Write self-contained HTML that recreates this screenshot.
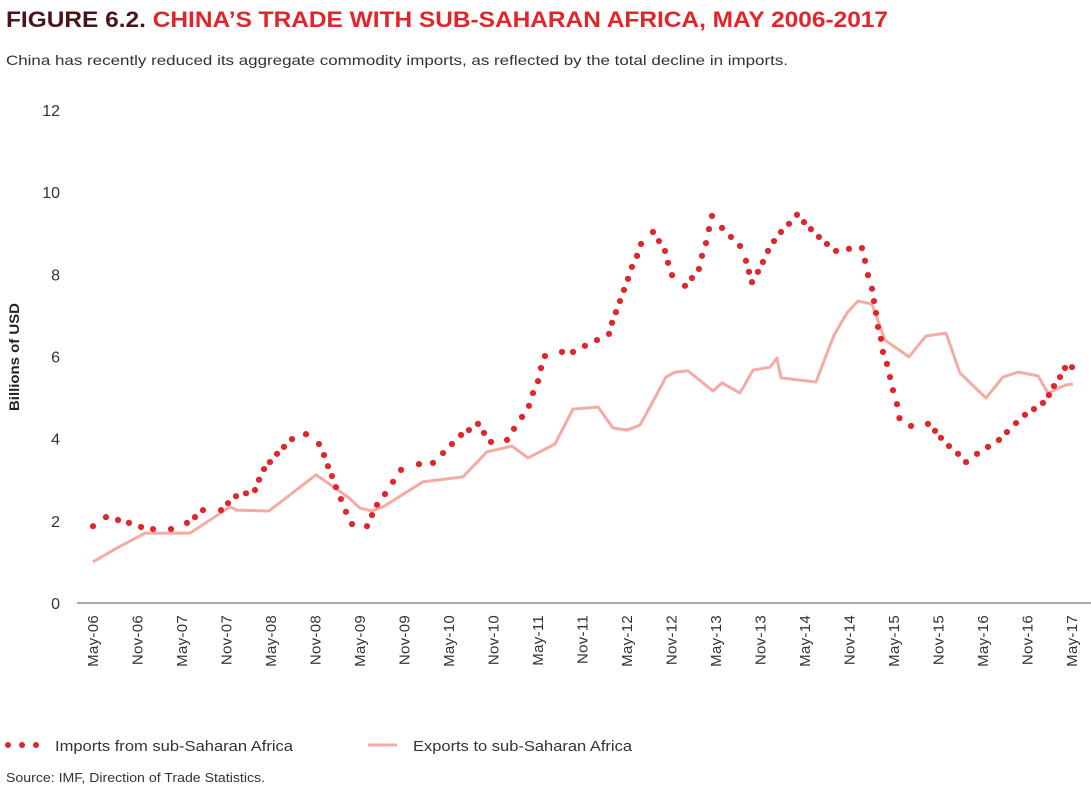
<!DOCTYPE html>
<html><head><meta charset="utf-8"><style>
body{margin:0;background:#fff;font-family:"Liberation Sans",sans-serif;}
svg{display:block}
</style></head><body>
<svg width="1091" height="793" xmlns="http://www.w3.org/2000/svg" id="chart" font-family="Liberation Sans, sans-serif">
<text x="6" y="27" font-size="22" font-weight="bold" textLength="882" lengthAdjust="spacingAndGlyphs"><tspan fill="#4a1518">FIGURE 6.2. </tspan><tspan fill="#e0262b">CHINA’S TRADE WITH SUB-SAHARAN AFRICA, MAY 2006-2017</tspan></text>
<text x="6" y="65" font-size="14" fill="#333" textLength="782" lengthAdjust="spacingAndGlyphs">China has recently reduced its aggregate commodity imports, as reflected by the total decline in imports.</text>
<text transform="translate(19,357) rotate(-90)" text-anchor="middle" font-size="14" font-weight="bold" fill="#222" textLength="108" lengthAdjust="spacingAndGlyphs">Billions of USD</text>
<line x1="77" y1="603" x2="1091" y2="603" stroke="#555" stroke-width="1"/>
<g id="yticks"></g><g id="xticks"></g><g id="exp"></g><g id="imp"></g>
<g>
<g>
<circle cx="8" cy="745" r="3" fill="#e0262b"/><circle cx="22" cy="745" r="3" fill="#e0262b"/><circle cx="36" cy="745" r="3" fill="#e0262b"/>
<text x="55" y="751" font-size="15" fill="#333" textLength="238" lengthAdjust="spacingAndGlyphs">Imports from sub-Saharan Africa</text></g>
<g>
<line x1="368" y1="745" x2="397" y2="745" stroke="#f4aba3" stroke-width="3"/>
<text x="413" y="751" font-size="15" fill="#333" textLength="219" lengthAdjust="spacingAndGlyphs">Exports to sub-Saharan Africa</text></g>
</g>
<text x="6" y="782" font-size="13" fill="#333" textLength="259" lengthAdjust="spacingAndGlyphs">Source: IMF, Direction of Trade Statistics.</text>
</svg>
<script>
const yTicks=[0,2,4,6,8,10,12];
const xLabels=["May-06","Nov-06","May-07","Nov-07","May-08","Nov-08","May-09","Nov-09","May-10","Nov-10","May-11","Nov-11","May-12","Nov-12","May-13","Nov-13","May-14","Nov-14","May-15","Nov-15","May-16","Nov-16","May-17"];
const impMonths=[0,1.75,3.37,4.85,6.47,8.09,10.52,12.67,13.75,14.83,17.26,18.2,19.28,20.63,21.84,22.38,23.06,23.86,24.81,25.75,26.83,28.72,30.47,31.14,31.68,32.22,32.76,33.43,34.11,34.92,36.94,37.62,38.29,39.37,40.45,41.53,43.95,45.84,47.19,48.4,49.62,50.69,51.91,52.72,53.66,55.82,56.76,57.84,58.78,59.32,60.0,60.4,60.94,63.23,64.72,66.33,67.95,69.57,69.98,70.51,71.05,71.59,72.13,72.67,73.35,73.89,75.5,76.31,77.12,77.53,78.07,79.82,80.76,81.7,82.11,82.65,83.05,83.46,84.81,86.02,87.23,88.04,88.45,88.85,89.66,90.33,91.01,91.82,92.76,93.84,94.92,95.86,96.8,97.88,98.96,100.18,101.93,103.68,104.09,104.49,105.03,105.3,105.57,105.84,106.24,106.51,107.05,107.46,107.86,108.4,108.74,110.3,112.58,113.53,114.33,115.41,116.63,117.71,119.19,120.67,122.15,123.23,124.45,125.66,126.87,128.08,128.89,129.57,130.38,131.05,132];
const impValues=[1.87,2.09,2.02,1.95,1.85,1.80,1.80,1.95,2.09,2.26,2.26,2.43,2.60,2.67,2.75,3.0,3.26,3.43,3.63,3.80,3.99,4.11,3.87,3.60,3.33,3.09,2.82,2.53,2.22,1.92,1.87,2.14,2.39,2.65,2.95,3.24,3.38,3.41,3.65,3.87,4.09,4.21,4.36,4.14,3.92,3.97,4.24,4.53,4.80,5.11,5.40,5.72,6.01,6.11,6.11,6.26,6.40,6.55,6.82,7.08,7.35,7.62,7.89,8.18,8.45,8.74,9.03,8.81,8.57,8.28,7.98,7.72,7.91,8.13,8.45,8.76,9.10,9.42,9.13,8.91,8.69,8.33,8.06,7.81,8.06,8.30,8.57,8.81,9.03,9.23,9.45,9.27,9.10,8.91,8.74,8.57,8.62,8.64,8.33,7.98,7.65,7.35,7.06,6.72,6.43,6.11,5.82,5.50,5.18,4.84,4.50,4.31,4.36,4.19,4.02,3.82,3.63,3.43,3.63,3.80,3.97,4.16,4.38,4.58,4.72,4.87,5.06,5.28,5.50,5.72,5.74];
const expMonths=[0,3.24,7.01,13.08,18.47,19.41,23.73,30.07,34.38,36.0,37.62,39.1,44.49,49.89,53.12,56.49,58.65,62.29,64.72,68.09,70.11,72.0,73.75,75.1,77.26,78.47,80.22,83.6,84.81,87.23,88.99,91.28,92.22,92.76,97.48,99.91,101.66,103.14,105.03,106.78,110.02,112.31,115.01,116.89,120.4,122.69,124.71,127.41,128.76,131.19,132.13];
const expValues=[1.0,1.34,1.70,1.70,2.34,2.26,2.24,3.12,2.58,2.31,2.24,2.34,2.95,3.07,3.68,3.82,3.53,3.87,4.72,4.77,4.26,4.21,4.33,4.77,5.50,5.62,5.65,5.16,5.36,5.11,5.67,5.74,5.96,5.48,5.38,6.52,7.06,7.35,7.28,6.40,5.99,6.50,6.57,5.60,4.99,5.50,5.62,5.53,5.11,5.31,5.33];
const NS="http://www.w3.org/2000/svg";
const xs=m=>93+m*(1072-93)/132;
const ys=v=>603-v*(603-110)/12;
function mk(t,a,p){const e=document.createElementNS(NS,t);for(const k in a)e.setAttribute(k,a[k]);p.appendChild(e);return e;}
const yg=document.getElementById('yticks');
yTicks.forEach(v=>{const t=mk('text',{x:60,y:ys(v)+6,'text-anchor':'end','font-size':16,fill:'#333'},yg);


t.textContent=v;});
const xg=document.getElementById('xticks');
xLabels.forEach((l,i)=>{const x=xs(i*6)+5;const t=mk('text',{transform:`translate(${x},615) rotate(-90)`,'text-anchor':'end','font-size':15,'letter-spacing':'0.3',fill:'#333'},xg);


t.textContent=l;});
const eg=document.getElementById('exp');
const pl=mk('polyline',{points:expMonths.map((m,i)=>xs(m)+','+ys(expValues[i])).join(' '),fill:'none',stroke:'#f4aba3','stroke-width':3,'stroke-linejoin':'round'},eg);


const ig=document.getElementById('imp');
impMonths.forEach((m,i)=>{const c=mk('circle',{cx:xs(m),cy:ys(impValues[i]),r:3.1,fill:'#e0262b'},ig);

});
</script>
</body></html>
